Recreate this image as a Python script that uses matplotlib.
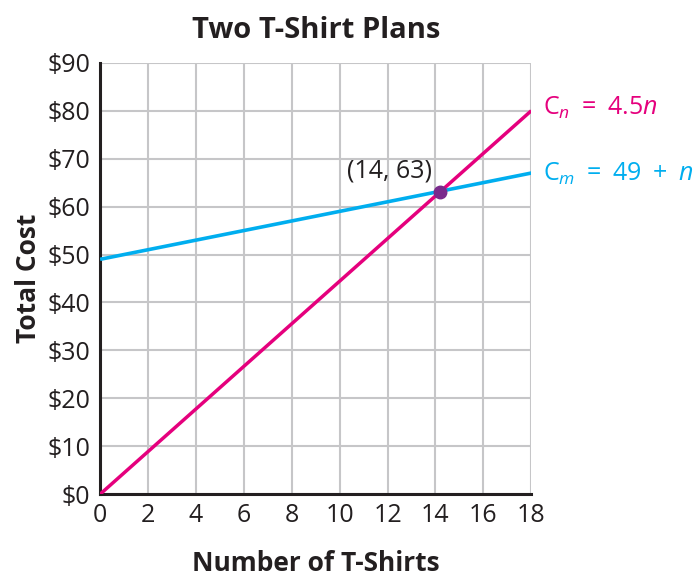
import numpy as np
import matplotlib.pyplot as plt

plt.rcParams['font.family'] = ['Open Sans', 'DejaVu Sans']
plt.rcParams['mathtext.fontset'] = 'custom'
plt.rcParams['mathtext.rm'] = 'Open Sans'
plt.rcParams['mathtext.it'] = 'Open Sans:italic'

# data
shirts = [0, 18]
cost_n = [0, 80]      # C_n = 4.5n (as drawn)
cost_m = [49, 67]     # C_m = 49 + n
meet = (14.2, 63)

x_ticks = list(range(0, 19, 2))
y_ticks = list(range(0, 91, 10))
y_labels = ['$' + str(v) for v in y_ticks]

pink = '#E5007D'
blue = '#00AEEF'
purple = '#7A2A8C'
ink = '#231f20'

fig = plt.figure(figsize=(7, 5.76), dpi=100)
ax = fig.add_axes([0.143, 0.142, 0.616, 0.749])

ax.plot(shirts, cost_m, color=blue, lw=2.6, solid_capstyle='butt', zorder=3)
ax.plot(shirts, cost_n, color=pink, lw=2.5, solid_capstyle='butt', zorder=3)
ax.plot(*meet, 'o', color=purple, ms=9, zorder=4)

ax.text(12.07, 67.4, '(14, 63)', fontsize=18, ha='center', va='center', color=ink)
ax.text(18.5, 80.6, r'$\mathregular{C}_n\ =\ \mathregular{4.5}n$', fontsize=18, color=pink,
        va='center', ha='left')
ax.text(18.5, 66.8, r'$\mathregular{C}_m\ =\ \mathregular{49}\ +\ n$', fontsize=18, color=blue,
        va='center', ha='left')

ax.set_xlim(0, 18)
ax.set_ylim(0, 90)
ax.set_xticks(x_ticks)
ax.set_yticks(y_ticks)
ax.set_yticklabels(y_labels)
ax.tick_params(length=0, labelsize=18, colors=ink)
ax.tick_params(axis='x', pad=6)
ax.tick_params(axis='y', pad=7)
ax.grid(True, color='#c6c6c8', lw=1.5)
ax.set_axisbelow(True)

for s in ['top', 'right']:
    ax.spines[s].set_visible(False)
for s in ['left', 'bottom']:
    ax.spines[s].set_linewidth(2.2)
    ax.spines[s].set_color(ink)

ax.set_title('Two T-Shirt Plans', fontsize=21, fontweight='bold', pad=18, color=ink)
ax.set_xlabel('Number of T-Shirts', fontsize=19, fontweight='bold', labelpad=16, color=ink)
ax.set_ylabel('Total Cost', fontsize=19, fontweight='bold', labelpad=4, color=ink)

fig.savefig('out.png', dpi=100)
